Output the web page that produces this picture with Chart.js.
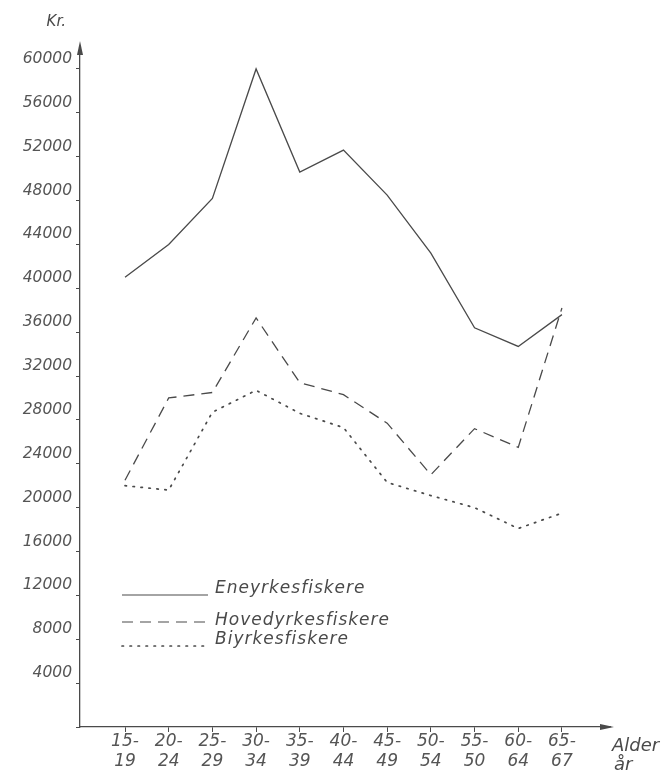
<!DOCTYPE html>
<html>
  <head>
    <title>Eneyrkes-, hovedyrkes- og biyrkesfiskere</title>
    <style>
      html, body { margin: 0; padding: 0; background: #fff; }
      .chart-container { width: 663px; height: 772px; }
    </style>
  </head>
  <body>
    <div class="chart-container">
      <canvas id="mycanvas" width="663" height="772"></canvas>
    </div>

    <script src="https://cdn.jsdelivr.net/npm/chart.js@4/dist/chart.umd.min.js"></script>
    <script>
      // age groups (two-line labels as on the drawing)
      var ageTop    = ["15-", "20-", "25-", "30-", "35-", "40-", "45-", "50-", "55-", "60-", "65-"];
      var ageBottom = ["19",  "24",  "29",  "34",  "39",  "44",  "49",  "54",  "50",  "64",  "67"];

      // income in Kr.
      var eneyrke   = [41000, 44000, 48200, 60000, 50600, 52600, 48500, 43200, 36400, 34700, 37600];
      var hovedyrke = [22500, 30000, 30500, 37300, 31400, 30300, 27700, 23000, 27200, 25500, 38200];
      var biyrke    = [22000, 21600, 28700, 30700, 28600, 27300, 22300, 21100, 20000, 18100, 19500];

      // y tick labels
      var krTicks = [0, 4000, 8000, 12000, 16000, 20000, 24000, 28000, 32000, 36000, 40000, 44000, 48000, 52000, 56000, 60000];

      var seriesNames = ["Eneyrkesfiskere", "Hovedyrkesfiskere", "Biyrkesfiskere"];

      var ink = "#4a4a4a";
      var handFont = "'DejaVu Sans', sans-serif";

      function toPoints(arr) {
        var out = [];
        for (var i = 0; i < arr.length; i++) out.push({ x: i, y: arr[i] });
        return out;
      }

      var dashes = [[], [11, 7], [1.5, 6.5]];

      // axis arrows, Kr./Alder labels and the hand-drawn legend
      var decorations = {
        id: "decorations",
        afterDraw: function (chart) {
          var ctx = chart.ctx;
          var a = chart.chartArea;
          ctx.save();
          ctx.strokeStyle = ink;
          ctx.fillStyle = ink;
          ctx.lineWidth = 1.3;

          // y-axis arrow
          ctx.beginPath();
          ctx.moveTo(a.left, a.top - 6);
          ctx.lineTo(a.left - 3, a.top + 8);
          ctx.lineTo(a.left + 3, a.top + 8);
          ctx.closePath();
          ctx.fill();
          // x-axis arrow
          ctx.beginPath();
          ctx.moveTo(a.right + 4, a.bottom);
          ctx.lineTo(a.right - 10, a.bottom - 3);
          ctx.lineTo(a.right - 10, a.bottom + 3);
          ctx.closePath();
          ctx.fill();

          ctx.font = "italic 15px " + handFont;
          ctx.textAlign = "right";
          ctx.textBaseline = "middle";
          ctx.fillText("Kr.", a.left - 14, a.top - 25);

          ctx.font = "italic 18px " + handFont;
          ctx.textAlign = "left";
          ctx.fillText("Alder", a.right + 2, a.bottom + 19);
          ctx.fillText("år", a.right + 4, a.bottom + 38);

          // legend
          var lx0 = a.left + 42, lx1 = a.left + 128, tx = a.left + 135;
          var rows = [a.bottom - 132, a.bottom - 105, a.bottom - 81];
          var textRows = [a.bottom - 138, a.bottom - 106, a.bottom - 87];
          ctx.font = "italic 17px " + handFont;
          ctx.letterSpacing = "1px";
          for (var i = 0; i < seriesNames.length; i++) {
            ctx.setLineDash(dashes[i]);
            ctx.lineCap = i === 2 ? "round" : "butt";
            ctx.lineWidth = i === 2 ? 1.7 : 1.2;
            ctx.beginPath();
            ctx.moveTo(lx0, rows[i]);
            ctx.lineTo(lx1, rows[i]);
            ctx.stroke();
            ctx.fillText(seriesNames[i], tx, textRows[i]);
          }
          ctx.restore();
        }
      };

      var ctx = document.getElementById("mycanvas");

      var LineGraph = new Chart(ctx, {
        type: "line",
        data: {
          datasets: [
            {
              label: seriesNames[0],
              data: toPoints(eneyrke),
              borderColor: ink,
              borderWidth: 1.3,
              pointRadius: 0,
              fill: false,
              tension: 0
            },
            {
              label: seriesNames[1],
              data: toPoints(hovedyrke),
              borderColor: ink,
              borderWidth: 1.3,
              borderDash: dashes[1],
              pointRadius: 0,
              fill: false,
              tension: 0
            },
            {
              label: seriesNames[2],
              data: toPoints(biyrke),
              borderColor: ink,
              borderWidth: 1.7,
              borderDash: dashes[2],
              borderCapStyle: "round",
              pointRadius: 0,
              fill: false,
              tension: 0
            }
          ]
        },
        options: {
          responsive: false,
          animation: false,
          layout: { padding: { top: 47, right: 53, left: 0, bottom: 0 } },
          plugins: {
            legend: { display: false },
            tooltip: { enabled: false }
          },
          scales: {
            x: {
              type: "linear",
              min: -1.03,
              max: 11.1,
              afterBuildTicks: function (scale) {
                var t = [];
                for (var i = 0; i < ageTop.length; i++) t.push({ value: i });
                scale.ticks = t;
              },
              afterFit: function (scale) { scale.height = 45; },
              border: { display: true, color: ink, width: 1.3 },
              grid: { display: true, drawOnChartArea: false, drawTicks: true, tickLength: 5, color: ink },
              ticks: {
                autoSkip: false,
                maxRotation: 0,
                padding: 0,
                color: "#555",
                font: { family: handFont, style: "italic", size: 17, lineHeight: 1.15 },
                callback: function (v) {
                  return [ageTop[v], ageBottom[v]];
                }
              }
            },
            y: {
              min: 0,
              max: 62000,
              afterBuildTicks: function (scale) {
                scale.ticks = krTicks.map(function (v) { return { value: v }; });
              },
              afterFit: function (scale) { scale.width = 80; },
              border: { display: true, color: ink, width: 1.3 },
              grid: { display: true, drawOnChartArea: false, drawTicks: true, tickLength: 4, color: ink },
              ticks: {
                autoSkip: false,
                padding: 4,
                labelOffset: -10,
                color: "#555",
                font: { family: handFont, style: "italic", size: 15.5 },
                callback: function (v) {
                  return v === 0 ? "" : String(v);
                }
              }
            }
          }
        },
        plugins: [decorations]
      });
    </script>
  </body>
</html>
